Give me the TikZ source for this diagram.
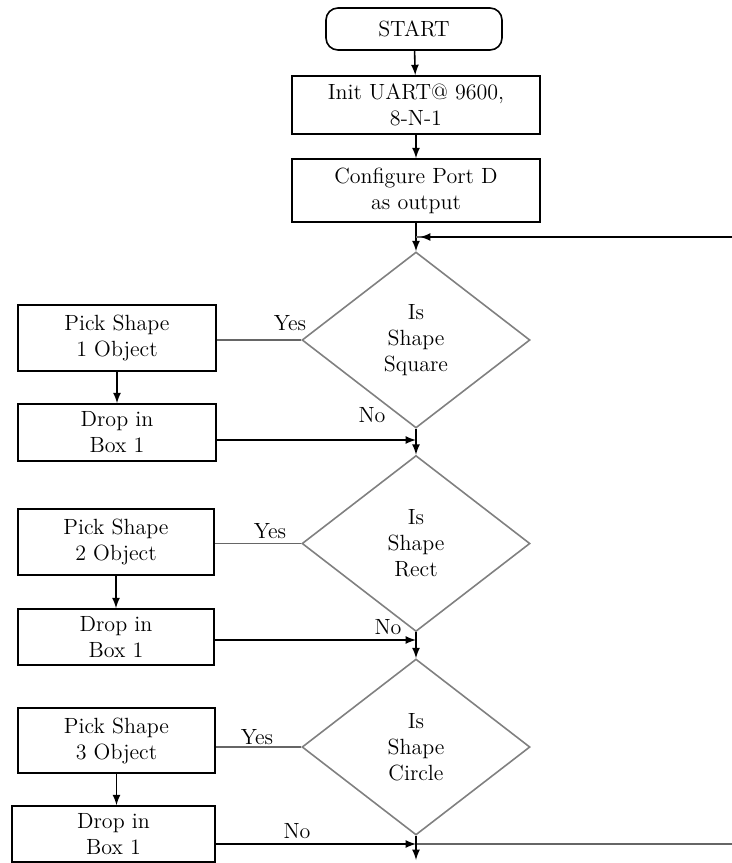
\documentclass[tikz,border=0pt]{standalone}
\usepackage{tikz}
\usetikzlibrary{shapes.geometric}

\begin{document}
\begin{tikzpicture}[x=0.5pt, y=-0.5pt, font=\fontsize{11}{13}\selectfont,
    box/.style={draw, thick, rectangle, align=center, inner sep=0pt},
    decision/.style={draw=gray, thick, diamond, align=center, inner sep=0pt, minimum width=114pt, minimum height=88pt},
    line/.style={draw=gray!80!black, thick},
    arrow/.style={draw, thick, -latex}]
    \useasboundingbox (0,0) rectangle (732,863);

    \node [box, rounded corners=6pt, minimum width=88pt, minimum height=21pt] (start) at (414, 29) {START};
    \node [box, minimum width=124pt, minimum height=29pt] (init) at (416, 105) {Init UART@ 9600,\\8-N-1};
    \node [box, minimum width=124pt, minimum height=31.5pt] (config) at (416, 190.5) {Configure Port D\\as output};

    \node [decision] (d1) at (416, 340) {Is\\Shape\\Square};
    \node [decision] (d2) at (416, 543.5) {Is\\Shape\\Rect};
    \node [decision] (d3) at (416, 747) {Is\\Shape\\Circle};

    \node [box, minimum width=99pt, minimum height=33pt] (pick1) at (117, 338) {Pick Shape\\1 Object};
    \node [box, minimum width=99pt, minimum height=28.5pt] (drop1) at (117, 432.5) {Drop in\\Box 1};
    \node [box, minimum width=98pt, minimum height=33pt] (pick2) at (116, 542) {Pick Shape\\2 Object};
    \node [box, minimum width=98pt, minimum height=28pt] (drop2) at (116, 637) {Drop in\\Box 1};
    \node [box, minimum width=98.5pt, minimum height=32.5pt] (pick3) at (116.5, 740.5) {Pick Shape\\3 Object};
    \node [box, minimum width=101.5pt, minimum height=28pt] (drop3) at (113.5, 834) {Drop in\\Box 1};

    \coordinate (loop) at (732, 237);
    \coordinate (j1) at (416, 440);
    \coordinate (j2) at (416, 640);
    \coordinate (j3) at (416, 844);
    \coordinate (back) at (732, 844);
    \coordinate (out) at (416, 860);

    \draw [arrow] (start) -- (init);
    \draw [arrow] (init) -- (config);
    \draw [arrow] (config) -- (d1);
    \draw [line] (loop) -- (loop -| d1.north);
    \draw [arrow] (loop) -- ([xshift=2pt]loop -| d1.north);

    \draw [line] (d1.west) -- (pick1.east |- d1.west);
    \node [above] (yes1) at (290, 338) {Yes};
    \draw [arrow] (pick1) -- (drop1);
    \draw [arrow] (drop1.east |- j1) -- (j1);
    \node [above] (no1) at (372, 430) {No};
    \draw [arrow] (d1) -- (d2);

    \draw [line] (d2.west) -- (pick2.east |- d2.west);
    \node [above] (yes2) at (270, 546) {Yes};
    \draw [arrow] (pick2) -- (drop2);
    \draw [arrow] (drop2.east |- j2) -- (j2);
    \node [above] (no2) at (388, 642) {No};
    \draw [arrow] (d2) -- (d3);

    \draw [line] (d3.west) -- (pick3.east |- d3.west);
    \node [above] (yes3) at (257, 752) {Yes};
    \draw [arrow] (pick3.south) -- (pick3.south |- drop3.north);
    \draw [arrow] (drop3.east |- j3) -- (j3);
    \draw [line] (j3) -- (back);
    \node [above] (no3) at (297, 846) {No};
    \draw [arrow] (d3) -- (out);
\end{tikzpicture}
\end{document}
